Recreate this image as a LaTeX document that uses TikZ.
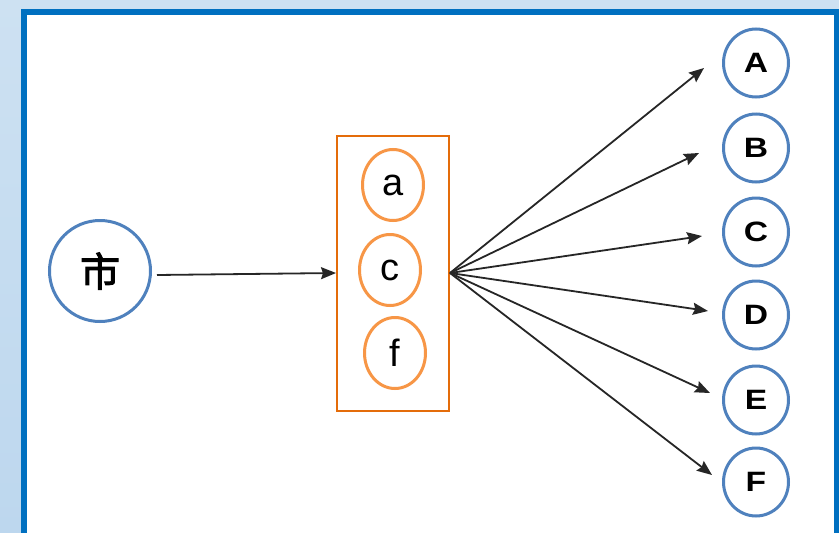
\documentclass[tikz,border=0pt]{standalone}
\usepackage{fontspec}
\setmainfont{Liberation Sans}
\newfontfamily\cjk[FakeBold=2.5]{Noto Sans CJK SC}
\usetikzlibrary{arrows.meta,shapes.geometric}
\definecolor{frameblue}{HTML}{0070C0}
\definecolor{nodeblue}{HTML}{4F81BD}
\definecolor{boxorange}{HTML}{E46C0A}
\definecolor{lightorange}{HTML}{F79646}
\definecolor{bgtop}{HTML}{BDD7EE}
\definecolor{bgbottom}{HTML}{CDE1F2}
\tikzset{
  citynode/.style={circle, draw=nodeblue, line width=3pt, fill=white,
    minimum size=101pt, inner sep=0pt, font=\cjk\fontsize{40}{40}\selectfont},
  midnode/.style={ellipse, draw=lightorange, line width=3pt, fill=white,
    minimum width=61pt, minimum height=71pt, inner sep=0pt,
    font=\fontsize{38}{38}\selectfont},
  endnode/.style={ellipse, draw=nodeblue, line width=3pt, fill=white,
    minimum width=65pt, minimum height=68pt, inner sep=0pt,
    font=\bfseries\fontsize{28}{28}\selectfont},
  groupbox/.style={draw=boxorange, line width=2pt, inner sep=0pt},
  link/.style={draw=black!85, line width=1.8pt,
    -{Stealth[length=15pt,width=12pt,inset=2pt]}},
}
\begin{document}
\begin{tikzpicture}[x=1pt, y=-1pt]
  \useasboundingbox (0,0) rectangle (839,533);
  \clip (0,0) rectangle (839,533);
  % page background and framed panel
  \shade[bottom color=bgtop, top color=bgbottom] (0,0) rectangle (839,533);
  \draw[frameblue, line width=5.5pt, fill=white] (24,12) rectangle (836.5,560);

  % source city
  \node[citynode] (shi) at (100,271) {市};

  % grouped intermediate nodes
  \node[groupbox, minimum width=112pt, minimum height=275pt] (grp) at (393,273.5) {};
  \node[midnode] (a) at (393,185) {a};
  \node[midnode] (c) at (390,270) {c};
  \node[midnode] (f) at (395,353) {f};

  % targets
  \node[endnode] (A) at (756,63) {\scalebox{1.2}[1]{A}};
  \node[endnode] (B) at (756,148) {\scalebox{1.2}[1]{B}};
  \node[endnode] (C) at (756,232) {\scalebox{1.2}[1]{C}};
  \node[endnode] (D) at (756,315) {\scalebox{1.2}[1]{D}};
  \node[endnode] (E) at (756,400) {\scalebox{1.2}[1]{E}};
  \node[endnode] (F) at (756,482) {\scalebox{1.2}[1]{F}};

  % arrow tips in front of the targets
  \coordinate (hub) at (450,273);
  \coordinate (tA) at (704,68);
  \coordinate (tB) at (699,153);
  \coordinate (tC) at (702,236);
  \coordinate (tD) at (708,311);
  \coordinate (tE) at (710,393);
  \coordinate (tF) at (712,475);
  \coordinate (tg) at (336,273);
  \coordinate (s0) at (157,275);

  \draw[link] (s0) -- (tg);
  \foreach \t in {tA,tB,tC,tD,tE,tF}
    \draw[link] (hub) -- (\t);
\end{tikzpicture}
\end{document}
